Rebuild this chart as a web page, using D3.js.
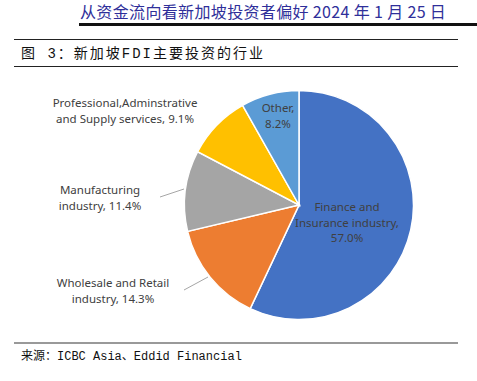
<!DOCTYPE html>
<html>
<head>
<meta charset="utf-8">
<script src="https://cdn.jsdelivr.net/npm/d3@7"></script>
<style>
  body { margin: 0; background: #fff; }
</style>
</head>
<body>
<script>
const WIDTH = 477;
const HEIGHT = 381;

// data
const categories = ["Finance and Insurance industry", "Wholesale and Retail industry",
  "Manufacturing industry", "Professional,Adminstrative and Supply services", "Other"];
const shares = [57.0, 14.3, 11.4, 9.1, 8.2];
const colors = ["#4472C4", "#ED7D31", "#A5A5A5", "#FFC000", "#5B9BD5"];
// label lines as printed
const labelLines = [
  ["Finance and", "Insurance industry,", "57.0%"],
  ["Wholesale and Retail", "industry, 14.3%"],
  ["Manufacturing", "industry, 11.4%"],
  ["Professional,Adminstrative", "and Supply services, 9.1%"],
  ["Other,", "8.2%"]
];

const cx = 299, cy = 205, R = 114.5;

var svg = d3.select("body").append("svg")
  .attr("width", WIDTH)
  .attr("height", HEIGHT);

// report header
svg.append("text")
  .attr("x", 80).attr("y", 18)
  .attr("font-family", "Noto Sans CJK SC")
  .attr("font-size", 16)
  .attr("letter-spacing", 0.35)
  .attr("fill", "#2f2f9a")
  .text("从资金流向看新加坡投资者偏好 2024 年 1 月 25 日");
svg.append("rect")
  .attr("x", 79).attr("y", 23).attr("width", WIDTH - 79).attr("height", 3)
  .attr("fill", "#111");

// figure title
svg.append("line")
  .attr("x1", 14).attr("x2", 458).attr("y1", 39.5).attr("y2", 39.5)
  .attr("stroke", "#222").attr("stroke-width", 1);
svg.append("text")
  .attr("x", 21).attr("y", 58)
  .attr("font-family", "Liberation Mono, Noto Sans CJK SC")
  .attr("font-size", 14)
  .attr("letter-spacing", 2)
  .attr("fill", "#111")
  .text("图 3：新加坡FDI主要投资的行业");
svg.append("line")
  .attr("x1", 14).attr("x2", 458).attr("y1", 66.5).attr("y2", 66.5)
  .attr("stroke", "#222").attr("stroke-width", 1);

// pie
var pie = d3.pie().sort(null).value(d => d)(shares);
var arc = d3.arc().innerRadius(0).outerRadius(R);

var g = svg.append("g").attr("transform", `translate(${cx},${cy})`);
g.selectAll("path")
  .data(pie)
  .join("path")
  .attr("d", arc)
  .attr("fill", (d, i) => colors[i])
  .attr("stroke", "#fff")
  .attr("stroke-width", 1.5);

// label positions (first baseline, leader line if outside)
const labelPos = [
  { x: 347, y: 211, line: null },
  { x: 113, y: 287, line: [[184, 290], [208, 277]] },
  { x: 100, y: 194, line: [[160, 197], [184, 189]] },
  { x: 125, y: 107, line: null },
  { x: 278, y: 112, line: null }
];

labelPos.forEach((p, i) => {
  if (p.line) {
    svg.append("path")
      .attr("d", d3.line()(p.line))
      .attr("fill", "none")
      .attr("stroke", "#a6a6a6")
      .attr("stroke-width", 1);
  }
  var t = svg.append("text")
    .attr("text-anchor", "middle")
    .attr("font-family", "Noto Sans")
    .attr("font-size", 11.5)
    .attr("fill", "#404040");
  labelLines[i].forEach((s, j) => {
    t.append("tspan")
      .attr("x", p.x)
      .attr("y", p.y + j * 15.5)
      .text(s);
  });
});

// source footer
svg.append("line")
  .attr("x1", 14).attr("x2", 458).attr("y1", 343).attr("y2", 343)
  .attr("stroke", "#999").attr("stroke-width", 2);
svg.append("text")
  .attr("x", 21).attr("y", 360)
  .attr("font-family", "Liberation Mono, Noto Sans CJK SC")
  .attr("font-size", 12)
  .attr("fill", "#111")
  .text("来源：ICBC Asia、Eddid Financial");
</script>
</body>
</html>
